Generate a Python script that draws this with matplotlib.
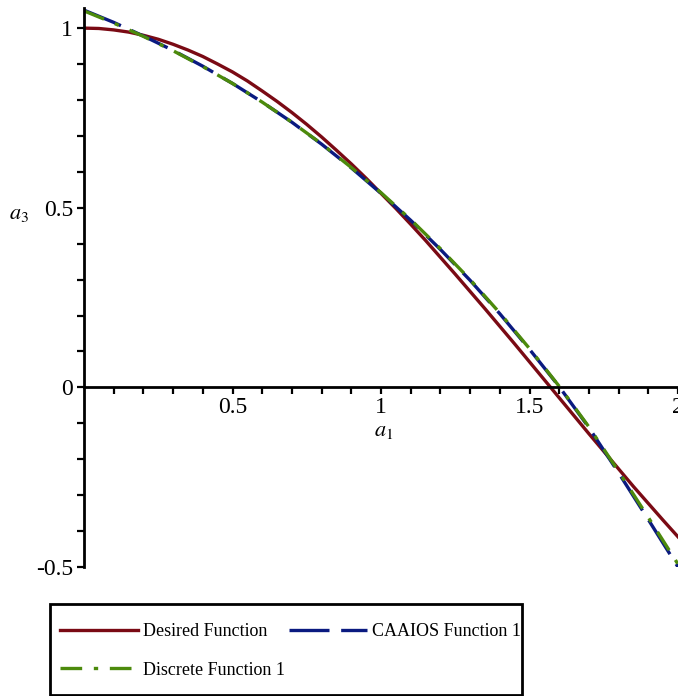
import matplotlib.pyplot as plt
from matplotlib.patches import Rectangle
import numpy as np

plt.rcParams['font.family'] = ['Liberation Serif', 'DejaVu Serif']
plt.rcParams['mathtext.fontset'] = 'stix'

# values
a1_fine = [0.0, 0.05, 0.1, 0.15, 0.2, 0.25, 0.3, 0.35, 0.4, 0.45, 0.5, 0.55, 0.6, 0.65,
           0.7, 0.75, 0.8, 0.85, 0.9, 0.95, 1.0, 1.05, 1.1, 1.15, 1.2, 1.25, 1.3, 1.35,
           1.4, 1.45, 1.5, 1.55, 1.6, 1.65, 1.7, 1.75, 1.8, 1.85, 1.9, 1.95, 2.0]
desired = [1.000, 0.999, 0.995, 0.989, 0.980, 0.969, 0.955, 0.939, 0.921, 0.900, 0.878,
           0.853, 0.825, 0.796, 0.765, 0.732, 0.697, 0.660, 0.622, 0.582, 0.540, 0.498,
           0.454, 0.409, 0.362, 0.315, 0.267, 0.219, 0.170, 0.121, 0.071, 0.021, -0.029,
           -0.079, -0.129, -0.178, -0.227, -0.276, -0.323, -0.370, -0.416]

a1 = [0.0, 0.1, 0.2, 0.3, 0.4, 0.5, 0.6, 0.7, 0.8, 0.9, 1.0,
      1.1, 1.2, 1.3, 1.4, 1.5, 1.6, 1.7, 1.8, 1.9, 2.0]
caaios = [1.050, 1.016, 0.978, 0.938, 0.894, 0.846, 0.794, 0.738, 0.677, 0.611, 0.540,
          0.465, 0.384, 0.298, 0.205, 0.106, 0.002, -0.112, -0.238, -0.368, -0.500]
discrete = [1.048, 1.014, 0.977, 0.937, 0.893, 0.846, 0.794, 0.738, 0.678, 0.612, 0.542,
            0.467, 0.386, 0.300, 0.207, 0.108, 0.003, -0.110, -0.234, -0.362, -0.492]

fig = plt.figure(figsize=(6.78, 6.96), dpi=100)
ax = fig.add_axes([84 / 678, 129 / 696, 1 - 84 / 678, (567 - 8) / 696])

lw = 2.4
l1, = ax.plot(a1_fine, desired, color='#7a0a14', lw=lw, label='Desired Function')
l2, = ax.plot(a1, caaios, color='#0a1a80', lw=lw, ls=(0, (12, 3.5)), label='CAAIOS Function 1')
l3, = ax.plot(a1, discrete, color='#4c8a0c', lw=lw, ls=(0, (6.5, 3.5, 1.3, 3.5)),
              label='Discrete Function 1')

ax.set_xlim(0, 2)
ax.set_ylim(-0.5, 1.056)

for s in ['top', 'right']:
    ax.spines[s].set_visible(False)
ax.spines['bottom'].set_position(('data', 0))
ax.spines['left'].set_linewidth(2)
ax.spines['bottom'].set_linewidth(2)

ax.set_xticks([0.5, 1, 1.5, 2])
ax.set_xticklabels(['0.5', '1', '1.5', '2'])
ax.set_xticks(np.arange(0.1, 2.0, 0.1), minor=True)
ax.set_yticks([-0.5, 0, 0.5, 1])
ax.set_yticklabels(['-0.5', '0', '0.5', '1'])
ax.set_yticks(np.arange(-0.4, 1.05, 0.1), minor=True)
ax.tick_params(which='both', direction='out', length=5, width=1.6, labelsize=17)
ax.tick_params(axis='x', which='major', pad=2)
ax.tick_params(axis='y', which='major', pad=3)

fig.text(0.014, (696 - 214) / 696, r'$a_{\mathit{3}}$', fontsize=16, ha='left', va='center')
ax.text(1.01, -0.122, r'$a_{\mathit{1}}$', fontsize=16, ha='center', va='center')

# legend box drawn separately so its size matches the reference
fig.patches.append(Rectangle((50 / 678, 1 / 696), 472 / 678, 91 / 696, transform=fig.transFigure,
                             fill=False, lw=2, ec='black'))
fig.legend([l1, l3, l2], [l1.get_label(), l3.get_label(), l2.get_label()],
           loc='upper left', bbox_to_anchor=(60 / 678, 1 - 623 / 696),
           ncol=2, fontsize=13, frameon=False, handlelength=4.3, handletextpad=0.28,
           columnspacing=0.25, borderaxespad=0.0, borderpad=0.0, labelspacing=1.2)

fig.savefig('out.png', dpi=100)
